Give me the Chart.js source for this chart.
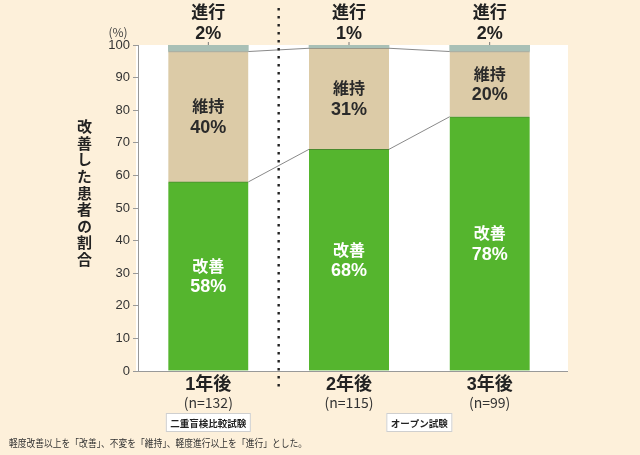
<!DOCTYPE html>
<html>
<head>
<meta charset="utf-8">
<script src="https://cdn.jsdelivr.net/npm/chart.js@4/dist/chart.umd.min.js"></script>
<style>
  html, body { margin: 0; padding: 0; background: #fdf0da; }
  #wrap { position: relative; width: 640px; height: 455px; }
  #yTitle {
    position: absolute; left: 74px; top: 119px;
    writing-mode: vertical-rl; text-orientation: upright;
    font: bold 15px "Noto Sans CJK JP"; letter-spacing: 1.6px; color: #222;
  }
</style>
</head>
<body>
<div id="wrap">
  <canvas id="chart" width="640" height="455"></canvas>
  <div id="yTitle">改善した患者の割合</div>
</div>
<script>
const categories = ["1年後", "2年後", "3年後"];
const sampleSizes = ["(n=132)", "(n=115)", "(n=99)"];
const improved = [58, 68, 78];
const maintained = [40, 31, 20];
const progressed = [2, 1, 2];
const yTicks = [0, 10, 20, 30, 40, 50, 60, 70, 80, 90, 100];
const trialBoxes = [
  { text: "二重盲検比較試験", from: 0, to: 0 },
  { text: "オープン試験", from: 1, to: 2 },
];
const footnote = "軽度改善以上を「改善」、不変を「維持」、軽度進行以上を「進行」とした。";

const JP = '"Noto Sans CJK JP"';
const MIX = '"Liberation Sans", "Noto Sans CJK JP"';

//White plot panel, connector lines, dotted divider and all the extra text
const decorations = {
  id: "decorations",
  beforeDraw(chart) {
    const { ctx, chartArea } = chart;
    ctx.save();
    ctx.fillStyle = "#ffffff";
    ctx.fillRect(chartArea.left - 2, chartArea.top, chartArea.right - chartArea.left + 10, chartArea.bottom - chartArea.top);
    ctx.restore();
  },
  afterDatasetsDraw(chart) {
    const { ctx, scales, chartArea } = chart;
    const x = scales.x, y = scales.y;
    const greenBars = chart.getDatasetMeta(0).data;
    ctx.save();

    //base line runs to the end of the white panel
    ctx.strokeStyle = "#999";
    ctx.lineWidth = 1;
    ctx.beginPath();
    ctx.moveTo(chartArea.right, chartArea.bottom + 0.5);
    ctx.lineTo(chartArea.right + 8, chartArea.bottom + 0.5);
    ctx.stroke();

    //connectors between bars
    ctx.strokeStyle = "#8a8a8a";
    for (let i = 0; i < categories.length - 1; i++) {
      const a = greenBars[i], b = greenBars[i + 1];
      const topA = improved[i] + maintained[i];
      const topB = improved[i + 1] + maintained[i + 1];
      ctx.beginPath();
      ctx.moveTo(a.x + a.width / 2, y.getPixelForValue(improved[i]));
      ctx.lineTo(b.x - b.width / 2, y.getPixelForValue(improved[i + 1]));
      ctx.moveTo(a.x + a.width / 2, y.getPixelForValue(topA));
      ctx.lineTo(b.x - b.width / 2, y.getPixelForValue(topB));
      ctx.stroke();
    }

    //dotted divider between the double-blind and open trials
    const divX = (x.getPixelForValue(0) + x.getPixelForValue(1)) / 2;
    ctx.strokeStyle = "#222";
    ctx.lineWidth = 2.4;
    ctx.setLineDash([2.4, 5.6]);
    ctx.beginPath();
    ctx.moveTo(divX, 8);
    ctx.lineTo(divX, 392);
    ctx.stroke();
    ctx.setLineDash([]);

    ctx.textAlign = "center";
    ctx.textBaseline = "middle";
    for (let i = 0; i < categories.length; i++) {
      const cx = x.getPixelForValue(i);
      //labels above the bars
      ctx.fillStyle = "#222";
      ctx.font = "bold 17px " + MIX;
      ctx.fillText("進行", cx, 13);
      ctx.font = "bold 18px " + MIX;
      ctx.fillText(progressed[i] + "%", cx, 34);
      ctx.strokeStyle = "#777";
      ctx.lineWidth = 1;
      ctx.beginPath();
      ctx.moveTo(cx, 42);
      ctx.lineTo(cx, y.getPixelForValue(100));
      ctx.stroke();

      //maintained label
      const midM = y.getPixelForValue(improved[i] + maintained[i] / 2);
      ctx.fillStyle = "#2a2a2a";
      ctx.font = "bold 16px " + MIX;
      ctx.fillText("維持", cx, midM - 9);
      ctx.font = "bold 18px " + MIX;
      ctx.fillText(maintained[i] + "%", cx, midM + 11);

      //improved label
      const midI = y.getPixelForValue(improved[i] / 2);
      ctx.fillStyle = "#ffffff";
      ctx.font = "bold 16px " + MIX;
      ctx.fillText("改善", cx, midI - 9);
      ctx.font = "bold 18px " + MIX;
      ctx.fillText(improved[i] + "%", cx, midI + 11);

      //sample size under the category
      ctx.fillStyle = "#333";
      ctx.font = "14px " + JP;
      ctx.fillText(sampleSizes[i], cx, 403);
    }

    //trial boxes
    ctx.font = "bold 9.5px " + JP;
    trialBoxes.forEach((box) => {
      const cx = (x.getPixelForValue(box.from) + x.getPixelForValue(box.to)) / 2;
      const w = ctx.measureText(box.text).width + 9;
      ctx.fillStyle = "#ffffff";
      ctx.fillRect(cx - w / 2, 413, w, 19);
      ctx.strokeStyle = "#cfcfcf";
      ctx.strokeRect(cx - w / 2 + 0.5, 413.5, w - 1, 18);
      ctx.fillStyle = "#222";
      ctx.fillText(box.text, cx, 423);
    });

    //unit label
    ctx.font = "12px " + JP;
    ctx.fillStyle = "#444";
    ctx.fillText("(%)", 118, 32);

    //footnote
    ctx.textAlign = "left";
    ctx.font = "10px " + JP;
    ctx.fillStyle = "#333";
    ctx.fillText(footnote, 9, 443, 298);
    ctx.restore();
  },
};

new Chart(document.getElementById("chart"), {
  type: "bar",
  data: {
    labels: categories,
    datasets: [
      {
        label: "改善",
        data: improved,
        backgroundColor: "#55b52e",
        borderColor: "#4a8a2e",
        borderWidth: { top: 1, right: 0, bottom: 0, left: 0 },
        borderSkipped: false,
      },
      {
        label: "維持",
        data: maintained,
        backgroundColor: "#dccba7",
        borderColor: "#9c9888",
        borderWidth: { top: 1, right: 0, bottom: 0, left: 0 },
        borderSkipped: false,
      },
      {
        label: "進行",
        data: progressed,
        backgroundColor: "#a9c0b6",
        borderWidth: 0,
      },
    ],
  },
  options: {
    responsive: false,
    animation: false,
    barThickness: 80,
    layout: { padding: { top: 45, right: 80, left: 0, bottom: 0 } },
    plugins: {
      legend: { display: false },
      tooltip: { enabled: false },
    },
    scales: {
      x: {
        stacked: true,
        afterFit: (scale) => { scale.height = 84; },
        grid: { display: false, drawTicks: false },
        border: { color: "#999", width: 1 },
        ticks: {
          padding: 3,
          color: "#222",
          font: { family: "Liberation Sans, Noto Sans CJK JP", size: 18, weight: "bold" },
        },
      },
      y: {
        stacked: true,
        min: 0,
        max: 100,
        afterFit: (scale) => { scale.width = 138; },
        afterBuildTicks: (scale) => { scale.ticks = yTicks.map((v) => ({ value: v })); },
        grid: { drawOnChartArea: false, tickLength: 5, color: "#999" },
        border: { color: "#999", width: 1 },
        ticks: {
          padding: 3,
          color: "#333",
          font: { family: "Liberation Sans", size: 13 },
        },
      },
    },
  },
  plugins: [decorations],
});
</script>
</body>
</html>
